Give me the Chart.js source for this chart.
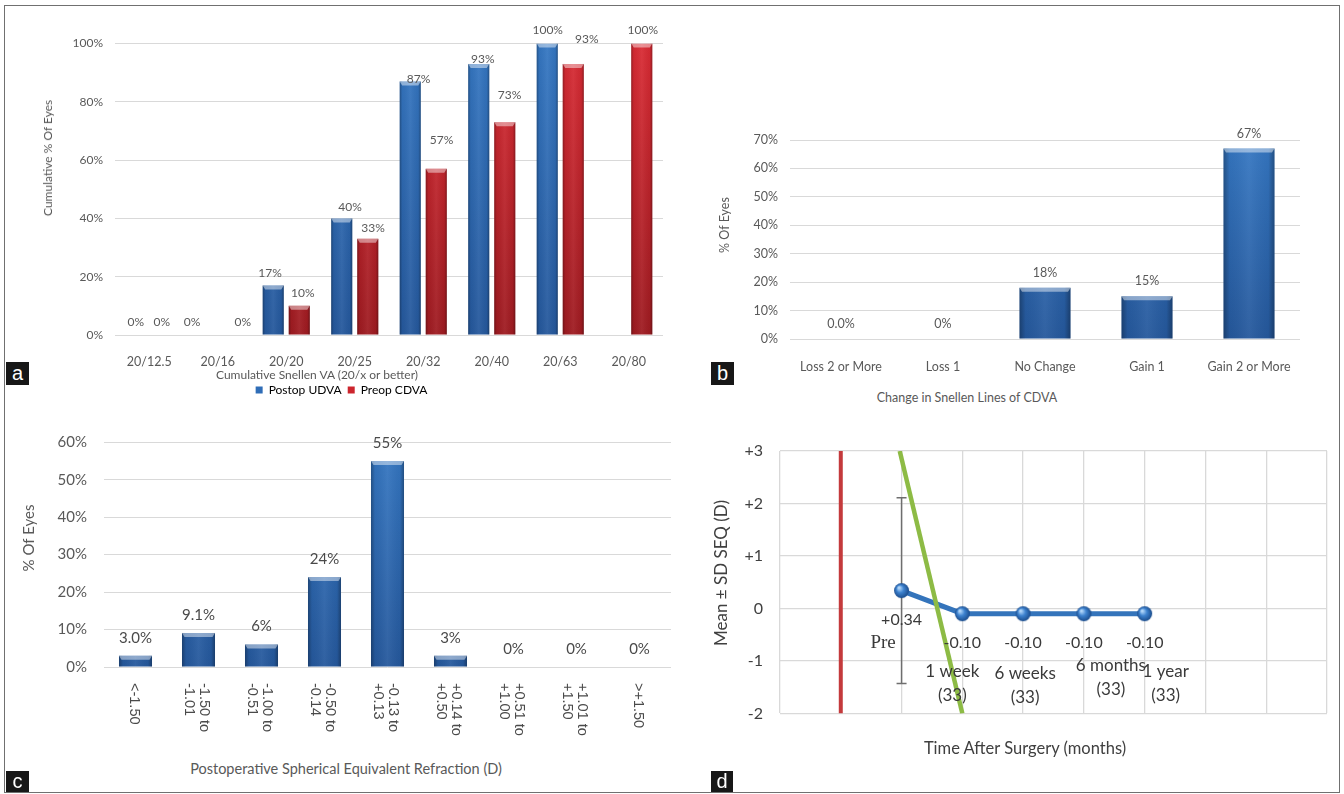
<!DOCTYPE html>
<html>
<head>
<meta charset="utf-8">
<title>Visual and refractive outcomes</title>
<script src="https://cdn.jsdelivr.net/npm/chart.js@4.4.1/dist/chart.umd.min.js"></script>
<style>
  html, body { margin: 0; padding: 0; background: #fff; }
  body { width: 1344px; height: 794px; position: relative; overflow: hidden;
         font-family: Lato, "Open Sans", sans-serif; }
  .frame { position: absolute; left: 4px; top: 5px; width: 1336px; height: 788px;
           border: 1.5px solid #707070; box-sizing: border-box; }
  canvas { position: absolute; }
  .t { position: absolute; white-space: nowrap; color: #595959; line-height: 1;
       transform: translate(-50%, -50%); }
  .ty { transform: translate(-50%, -50%) rotate(-90deg); }
  .tag { position: absolute; background: #171717; color: #fff; text-align: center;
         font-family: "Liberation Sans", Arial, sans-serif; font-size: 20px; }
</style>
</head>
<body>
<div class="frame"></div>

<canvas id="ca" width="645" height="386" style="left:20px;top:16px"></canvas>
<canvas id="cb" width="610" height="280" style="left:700px;top:100px"></canvas>
<canvas id="cc" width="660" height="340" style="left:20px;top:410px"></canvas>
<canvas id="cd" width="640" height="320" style="left:700px;top:420px"></canvas>

<div class="t" style="left:317px;top:375px;font-size:12px">Cumulative Snellen VA (20/x or better)</div>
<div class="t ty" style="left:48px;top:158px;font-size:12px">Cumulative % Of Eyes</div>
<div class="t" style="left:967px;top:398px;font-size:12.5px">Change in Snellen Lines of CDVA</div>
<div class="t ty" style="left:725px;top:225px;font-size:12.5px">% Of Eyes</div>
<div class="t" style="left:346px;top:769px;font-size:14.5px">Postoperative Spherical Equivalent Refraction (D)</div>
<div class="t ty" style="left:28px;top:538px;font-size:15px">% Of Eyes</div>
<div class="t" style="left:1025px;top:748px;font-size:16.5px;color:#404040">Time After Surgery (months)</div>
<div class="t ty" style="left:720px;top:573px;font-size:17px;color:#404040">Mean ± SD SEQ (D)</div>

<div class="tag" style="left:6px;top:362px;width:23px;height:23px;line-height:22px">a</div>
<div class="tag" style="left:711px;top:362px;width:23px;height:23px;line-height:22px">b</div>
<div class="tag" style="left:6px;top:771px;width:23px;height:21px;line-height:21px">c</div>
<div class="tag" style="left:711px;top:771px;width:22px;height:21px;line-height:21px">d</div>

<script>
// ---- (a) cumulative Snellen visual acuity ----
const snellenCats = ['20/12.5', '20/16', '20/20', '20/25', '20/32', '20/40', '20/63', '20/80'];
const postopUDVA = [0, 0, 17, 40, 87, 93, 100, null];
const preopCDVA  = [0, 0, 10, 33, 57, 73, 93, 100];
const cumTicks   = [0, 20, 40, 60, 80, 100];

// ---- (b) change in Snellen lines of CDVA ----
const lineCats      = ['Loss 2 or More', 'Loss 1', 'No Change', 'Gain 1', 'Gain 2 or More'];
const lineChange    = [0, 0, 18, 15, 67];
const lineDecimals  = [1, 0, 0, 0, 0];
const lineTicks     = [0, 10, 20, 30, 40, 50, 60, 70];

// ---- (c) postoperative spherical equivalent ----
const seCats = [['<-1.50'], ['-1.50 to', '-1.01'], ['-1.00 to', '-0.51'], ['-0.50 to', '-0.14'],
                ['-0.13 to', '+0.13'], ['+0.14 to', '+0.50'], ['+0.51 to', '+1.00'],
                ['+1.01 to', '+1.50'], ['>+1.50']];
const seEyes     = [3.0, 9.1, 6, 24, 55, 3, 0, 0, 0];
const seDecimals = [1, 1, 0, 0, 0, 0, 0, 0, 0];
const seTicks    = [0, 10, 20, 30, 40, 50, 60];

// ---- (d) mean SEQ over time ----
const timeNames  = ['Pre', '1 week', '6 weeks', '6 months', '1 year'];
const timeCounts = ['', '(33)', '(33)', '(33)', '(33)'];
const timeX      = [2, 3, 4, 5, 6];
const meanSEQ    = [0.34, -0.10, -0.10, -0.10, -0.10];
const sdSEQ      = [1.77, null, null, null, null];
const seqTicks   = [-2, -1, 0, 1, 2, 3];
const timeGrid   = [0, 1, 2, 3, 4, 5, 6, 7, 8, 9];
const redAxisX   = [1, 1];
const redAxisY   = [3, -2];
const greenX     = [1.97, 3];
const greenY     = [3, -2];

const GREY = '#595959';
const GRID = '#d9d9d9';
Chart.defaults.font.family = 'Lato, "Open Sans", sans-serif';
Chart.defaults.color = GREY;

// vertical shading of the bar bodies
function barFill(top, bottom) {
  return (c) => {
    const area = c.chart.chartArea;
    if (c.type !== 'data' || !area) return top;
    const g = c.chart.ctx.createLinearGradient(0, area.top, 0, area.bottom);
    g.addColorStop(0, top);
    g.addColorStop(1, bottom);
    return g;
  };
}

// bevelled look: darker sides and a light top edge on every bar
const bevel = {
  id: 'bevel',
  afterDatasetsDraw(chart) {
    const ctx = chart.ctx;
    chart.data.datasets.forEach((ds, di) => {
      const meta = chart.getDatasetMeta(di);
      if (meta.type !== 'bar') return;
      meta.data.forEach(el => {
        const { x, y, base, width } = el.getProps(['x', 'y', 'base', 'width'], true);
        const h = base - y;
        if (!(h > 0.5)) return;
        const l = x - width / 2, r = x + width / 2;
        ctx.save();
        const g = ctx.createLinearGradient(l, 0, r, 0);
        g.addColorStop(0, 'rgba(0,0,0,0.30)');
        g.addColorStop(0.12, 'rgba(0,0,0,0.04)');
        g.addColorStop(0.5, 'rgba(255,255,255,0.06)');
        g.addColorStop(0.88, 'rgba(0,0,0,0.04)');
        g.addColorStop(1, 'rgba(0,0,0,0.32)');
        ctx.fillStyle = g;
        ctx.fillRect(l, y, width, h);
        const b = Math.min(4, h);
        ctx.fillStyle = 'rgba(255,255,255,0.45)';
        ctx.beginPath();
        ctx.moveTo(l, y); ctx.lineTo(r, y);
        ctx.lineTo(r - 2.5, y + b); ctx.lineTo(l + 2.5, y + b);
        ctx.closePath(); ctx.fill();
        ctx.restore();
      });
    });
  }
};

// percentage written above each bar (optional per-label nudge [dx, lift])
const valueLabels = {
  id: 'valueLabels',
  afterDatasetsDraw(chart, args, opts) {
    const ctx = chart.ctx;
    ctx.save();
    ctx.font = opts.font;
    ctx.fillStyle = opts.color;
    ctx.textAlign = 'center';
    ctx.textBaseline = 'middle';
    chart.data.datasets.forEach((ds, di) => {
      const meta = chart.getDatasetMeta(di);
      const dec = (opts.decimals && opts.decimals[di]) || [];
      const nud = (opts.nudge && opts.nudge[di]) || [];
      meta.data.forEach((el, i) => {
        const v = ds.data[i];
        if (v === null || v === undefined) return;
        const n = nud[i] || [0, 0];
        ctx.fillText(v.toFixed(dec[i] || 0) + '%', el.x + n[0], el.y - opts.gap - n[1]);
      });
    });
    ctx.restore();
  }
};

// category labels turned a quarter clockwise
const turnedTicks = {
  id: 'turnedTicks',
  afterDraw(chart, args, opts) {
    const sc = chart.scales.x, ctx = chart.ctx;
    ctx.save();
    ctx.font = opts.font;
    ctx.fillStyle = opts.color;
    ctx.textAlign = 'left';
    ctx.textBaseline = 'middle';
    chart.data.labels.forEach((lab, i) => {
      const lines = Array.isArray(lab) ? lab : [lab];
      ctx.save();
      ctx.translate(sc.getPixelForTick(i) + opts.dx, sc.top + opts.pad);
      ctx.rotate(Math.PI / 2);
      lines.forEach((ln, j) => ctx.fillText(ln, 0, (j - (lines.length - 1) / 2) * opts.lineHeight));
      ctx.restore();
    });
    ctx.restore();
  }
};

function pctAxis(ticks, max, width, pad, size) {
  return {
    min: 0, max: max,
    afterBuildTicks: s => { s.ticks = ticks.map(v => ({ value: v })); },
    grid: { color: GRID, drawTicks: false },
    border: { display: false },
    ticks: { callback: v => v + '%', padding: pad, font: { size: size }, color: GREY },
    afterFit: s => { s.width = width; }
  };
}
function catAxis(height, pad, size) {
  return {
    grid: { display: false },
    border: { display: false },
    ticks: { padding: pad, font: { size: size }, color: GREY, maxRotation: 0, autoSkip: false },
    afterFit: s => { s.height = height; }
  };
}
const BLUE = barFill('#3577c2', '#25589c');
const RED = barFill('#d92b34', '#9e1b21');

// (a)
new Chart(document.getElementById('ca'), {
  type: 'bar',
  data: {
    labels: snellenCats,
    datasets: [
      { label: 'Postop UDVA', data: postopUDVA, backgroundColor: BLUE },
      { label: 'Preop CDVA', data: preopCDVA, backgroundColor: RED }
    ]
  },
  options: {
    responsive: false, animation: false, devicePixelRatio: 1,
    datasets: { bar: { categoryPercentage: 0.76, barPercentage: 0.81, borderWidth: 0 } },
    layout: { padding: { top: 27.5, right: 2, left: 0, bottom: 0 } },
    scales: { x: catAxis(43, 11, 12.5), y: pctAxis(cumTicks, 100, 95, 12, 12) },
    plugins: {
      legend: {
        position: 'bottom', maxHeight: 24,
        labels: {
          boxWidth: 7, boxHeight: 7, padding: 6, color: GREY, font: { size: 12 },
          generateLabels: ch => ch.data.datasets.map((d, i) => ({
            text: d.label, fillStyle: i === 0 ? '#2f6db7' : '#cc252d',
            strokeStyle: 'transparent', lineWidth: 0, datasetIndex: i
          }))
        }
      },
      tooltip: { enabled: false },
      valueLabels: {
        font: '12px Lato, "Open Sans", sans-serif', color: GREY, gap: 12.5,
        nudge: [
          [[-0.5, 0.5], [-12.75, 0.5], [-3.25, 0], [8.25, -1], [8.25, -10], [4, -7.5], [0.5, 1], [0, 0]],
          [[-0.5, 0.5], [12, 0.5], [3.5, 0.5], [5.25, -1.5], [5.25, 16.5], [4.75, 14.5], [13.5, 12.5], [1, 1]]
        ]
      }
    }
  },
  plugins: [bevel, valueLabels]
});

// (b)
new Chart(document.getElementById('cb'), {
  type: 'bar',
  data: { labels: lineCats, datasets: [{ label: '% Of Eyes', data: lineChange, backgroundColor: BLUE }] },
  options: {
    responsive: false, animation: false, devicePixelRatio: 1,
    datasets: { bar: { categoryPercentage: 1, barPercentage: 0.5, borderWidth: 0 } },
    layout: { padding: { top: 40, right: 10, left: 0, bottom: 0 } },
    scales: { x: catAxis(41, 12, 12.5), y: pctAxis(lineTicks, 70, 90, 12, 12.5) },
    plugins: {
      legend: { display: false }, tooltip: { enabled: false },
      valueLabels: { font: '12.5px Lato, "Open Sans", sans-serif', color: GREY, gap: 15, decimals: [lineDecimals] }
    }
  },
  plugins: [bevel, valueLabels]
});

// (c)
const cX = catAxis(83, 0, 14);
cX.ticks.display = false;
new Chart(document.getElementById('cc'), {
  type: 'bar',
  data: { labels: seCats, datasets: [{ label: '% Of Eyes', data: seEyes, backgroundColor: BLUE }] },
  options: {
    responsive: false, animation: false, devicePixelRatio: 1,
    datasets: { bar: { categoryPercentage: 1, barPercentage: 0.524, borderWidth: 0 } },
    layout: { padding: { top: 32.3, right: 9, left: 0, bottom: 0 } },
    scales: { x: cX, y: pctAxis(seTicks, 60, 84, 17, 15) },
    plugins: {
      legend: { display: false }, tooltip: { enabled: false },
      valueLabels: { font: '15px Lato, "Open Sans", sans-serif', color: '#4a4a4a', gap: 18, decimals: [seDecimals] },
      turnedTicks: { font: '14.5px "Liberation Sans", Arial, sans-serif', color: '#4a4a4a', pad: 16, dx: -2, lineHeight: 15 }
    }
  },
  plugins: [bevel, valueLabels, turnedTicks]
});

// (d) sphere marker for the mean points
function sphere(r) {
  const c = document.createElement('canvas');
  c.width = c.height = 2 * r + 2;
  const x = c.getContext('2d');
  const g = x.createRadialGradient(r + 1 - r * 0.35, r + 1 - r * 0.4, r * 0.1, r + 1, r + 1, r);
  g.addColorStop(0, '#b5d8fa');
  g.addColorStop(0.45, '#3d82cf');
  g.addColorStop(1, '#1b4c8c');
  x.fillStyle = g;
  x.beginPath(); x.arc(r + 1, r + 1, r, 0, Math.PI * 2); x.fill();
  return c;
}

// SD whisker and the written values / time points
const seqNotes = {
  id: 'seqNotes',
  beforeDatasetsDraw(chart, args, opts) {
    const { ctx, scales: { x, y } } = chart;
    ctx.save();
    ctx.strokeStyle = '#6e6e6e';
    ctx.lineWidth = 1.5;
    sdSEQ.forEach((sd, i) => {
      if (sd === null) return;
      const px = x.getPixelForValue(timeX[i]);
      const hi = y.getPixelForValue(meanSEQ[i] + sd), lo = y.getPixelForValue(meanSEQ[i] - sd);
      ctx.beginPath();
      ctx.moveTo(px, hi); ctx.lineTo(px, lo);
      ctx.moveTo(px - 5, hi); ctx.lineTo(px + 5, hi);
      ctx.moveTo(px - 5, lo); ctx.lineTo(px + 5, lo);
      ctx.stroke();
    });
    ctx.restore();
  },
  afterDatasetsDraw(chart, args, opts) {
    const { ctx, scales: { x, y } } = chart;
    ctx.save();
    ctx.textAlign = 'center';
    ctx.textBaseline = 'middle';
    ctx.fillStyle = '#3a3a3a';
    timeX.forEach((tx, i) => {
      const px = x.getPixelForValue(tx), py = y.getPixelForValue(meanSEQ[i]);
      const v = meanSEQ[i];
      ctx.font = '16px Lato, "Open Sans", sans-serif';
      ctx.fillText((v > 0 ? '+' : '') + v.toFixed(2), px, py + opts.valueGap);
      const n = opts.nameShift[i];
      ctx.font = i === 0 ? '19px "Liberation Serif", "DejaVu Serif", serif' : '17px Lato, "Open Sans", sans-serif';
      ctx.fillText(timeNames[i], px + n[0], py + n[1]);
      if (timeCounts[i]) {
        ctx.font = '17px Lato, "Open Sans", sans-serif';
        ctx.fillText(timeCounts[i], px + n[0], py + n[1] + 24);
      }
    });
    ctx.restore();
  }
};

new Chart(document.getElementById('cd'), {
  type: 'line',
  data: {
    datasets: [
      { label: 'axis', data: redAxisX.map((v, i) => ({ x: v, y: redAxisY[i] })),
        borderColor: '#c43a3c', borderWidth: 4, pointRadius: 0, order: 2 },
      { label: 'Mean SEQ', data: timeX.map((v, i) => ({ x: v, y: meanSEQ[i] })),
        borderColor: '#3474bb', borderWidth: 5, pointStyle: sphere(7.5), pointRadius: 7.5, order: 1 },
      { label: 'trend', data: greenX.map((v, i) => ({ x: v, y: greenY[i] })),
        borderColor: '#8dbb45', borderWidth: 4.5, pointRadius: 0, order: 0 }
    ]
  },
  options: {
    responsive: false, animation: false, devicePixelRatio: 1,
    layout: { padding: { top: 31, right: 13, left: 0, bottom: 0 } },
    scales: {
      x: {
        type: 'linear', min: 0, max: 9,
        afterBuildTicks: s => { s.ticks = timeGrid.map(v => ({ value: v })); },
        grid: { color: GRID, drawTicks: false, lineWidth: 1.3 },
        border: { display: false },
        ticks: { display: false },
        afterFit: s => { s.height = 18; }
      },
      y: {
        min: -2, max: 3,
        afterBuildTicks: s => { s.ticks = seqTicks.map(v => ({ value: v })); },
        grid: { color: GRID, drawTicks: false, lineWidth: 1.3 },
        border: { display: false },
        ticks: { callback: v => (v > 0 ? '+' + v : String(v)), padding: 17, font: { size: 16 }, color: '#404040' },
        afterFit: s => { s.width = 80; }
      }
    },
    plugins: {
      legend: { display: false }, tooltip: { enabled: false },
      seqNotes: {
        valueGap: 29,
        nameShift: [[-18.5, 52], [-10, 58], [2, 60], [27, 52], [21, 58]]
      }
    }
  },
  plugins: [seqNotes]
});
</script>
</body>
</html>
